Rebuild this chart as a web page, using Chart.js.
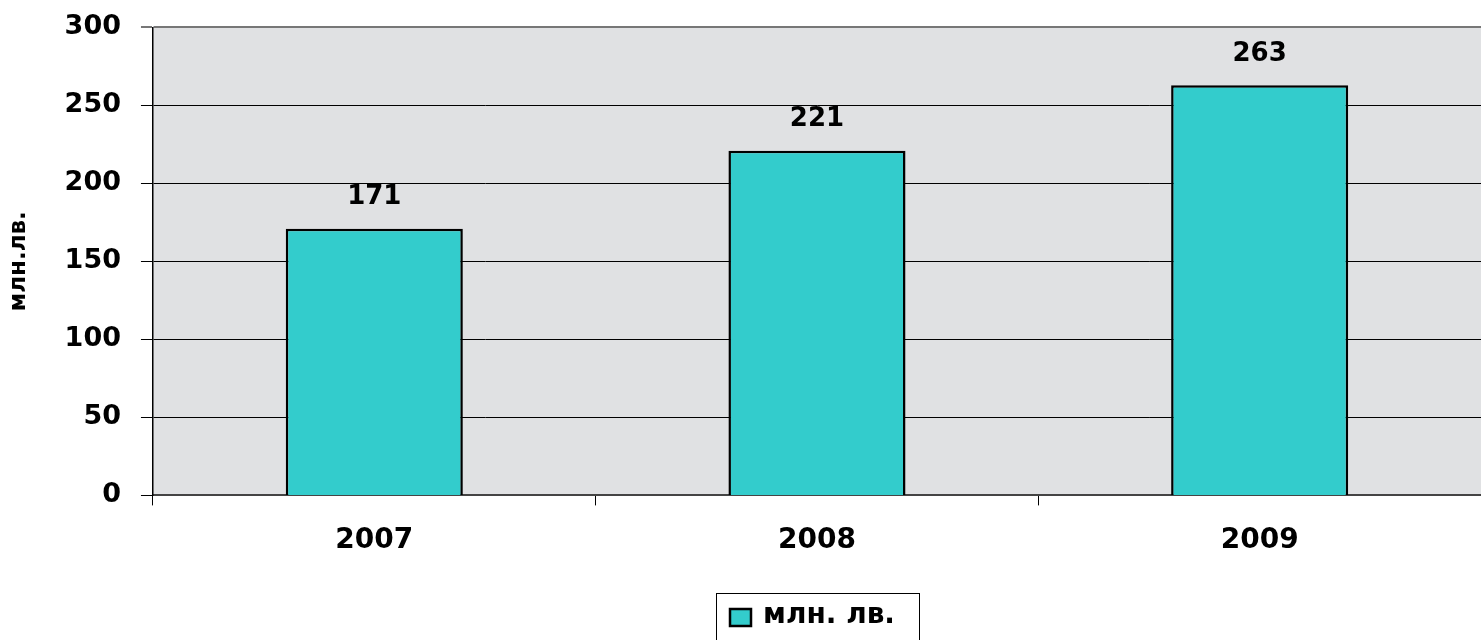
<!DOCTYPE html>
<html>
<head>
<meta charset="utf-8">
<script src="https://cdn.jsdelivr.net/npm/chart.js@4/dist/chart.umd.min.js"></script>
<style>
  html, body { margin: 0; padding: 0; background: #fff; }
  #wrap { width: 1481px; height: 640px; position: relative; }
</style>
</head>
<body>
<div id="wrap"><canvas id="chart"></canvas></div>
<script>
const years = ["2007", "2008", "2009"];
const values = [171, 221, 263];
const seriesName = "млн. лв.";
const axisTitle = "млн.лв.";
const yTicks = [0, 50, 100, 150, 200, 250, 300];

const FONT = "'DejaVu Sans', 'Liberation Sans', Arial, sans-serif";

// grey plot background (stands in for the marble texture)
const plotBg = {
    id: "plotBg",
    beforeDraw(chart) {
        const a = chart.chartArea, ctx = chart.ctx;
        ctx.save();
        ctx.fillStyle = "#e0e1e3";
        ctx.fillRect(a.left, a.top, a.right - a.left, a.bottom - a.top);
        ctx.restore();
    }
};

// value labels above bars + boxed legend under the chart
const extras = {
    id: "extras",
    afterDatasetsDraw(chart) {
        const ctx = chart.ctx;
        const meta = chart.getDatasetMeta(0);
        ctx.save();
        ctx.font = "bold 26px " + FONT;
        ctx.fillStyle = "#000";
        ctx.textAlign = "center";
        ctx.textBaseline = "middle";
        meta.data.forEach((bar, i) => {
            ctx.fillText(String(values[i]), bar.x, bar.y - 31);
        });
        ctx.restore();
    },
    afterDraw(chart) {
        const ctx = chart.ctx;
        const ds = chart.data.datasets[0];
        ctx.save();
        ctx.strokeStyle = "#000";
        ctx.lineWidth = 1;
        ctx.strokeRect(716.5, 593.5, 203, 60);
        ctx.fillStyle = ds.backgroundColor;
        ctx.fillRect(730, 609, 21, 17);
        ctx.lineWidth = 2.5;
        ctx.strokeRect(730, 609, 21, 17);
        ctx.font = "bold 28px " + FONT;
        ctx.fillStyle = "#000";
        ctx.textBaseline = "middle";
        ctx.fillText(ds.label, 763, 616);
        ctx.restore();
    }
};

new Chart(document.getElementById("chart"), {
    type: "bar",
    data: {
        labels: years,
        datasets: [{
            label: seriesName,
            data: values,
            backgroundColor: "#33CCCC",
            borderColor: "#000",
            borderWidth: 2.5,
            barPercentage: 0.4,
            categoryPercentage: 1.0
        }]
    },
    options: {
        responsive: true,
        maintainAspectRatio: false,
        animation: false,
        layout: { padding: { top: 1, right: 0, left: 0, bottom: 63 } },
        plugins: {
            legend: { display: false },
            tooltip: { enabled: false }
        },
        scales: {
            x: {
                grid: {
                    offset: true,
                    drawOnChartArea: false,
                    color: "#000",
                    tickLength: 10
                },
                border: { color: "#444", width: 2 },
                ticks: {
                    color: "#000",
                    padding: 19,
                    font: { family: FONT, size: 28, weight: "bold" }
                }
            },
            y: {
                min: 0,
                max: 300,
                afterBuildTicks(axis) {
                    axis.ticks = yTicks.map(v => ({ value: v }));
                },
                grid: {
                    color: (c) => c.tick && c.tick.value === 300 ? "#777" : "#000",
                    lineWidth: (c) => c.tick && c.tick.value === 300 ? 2 : 1,
                    tickLength: 12
                },
                border: { color: "#000", width: 1.5 },
                ticks: {
                    color: "#000",
                    padding: 20,
                    font: { family: FONT, size: 27, weight: "bold", lineHeight: 0.55 }
                },
                title: {
                    display: true,
                    text: axisTitle,
                    color: "#000",
                    padding: { top: 5, bottom: 12 },
                    font: { family: FONT, size: 23, weight: "bold" }
                }
            }
        }
    },
    plugins: [plotBg, extras]
});
</script>
</body>
</html>
